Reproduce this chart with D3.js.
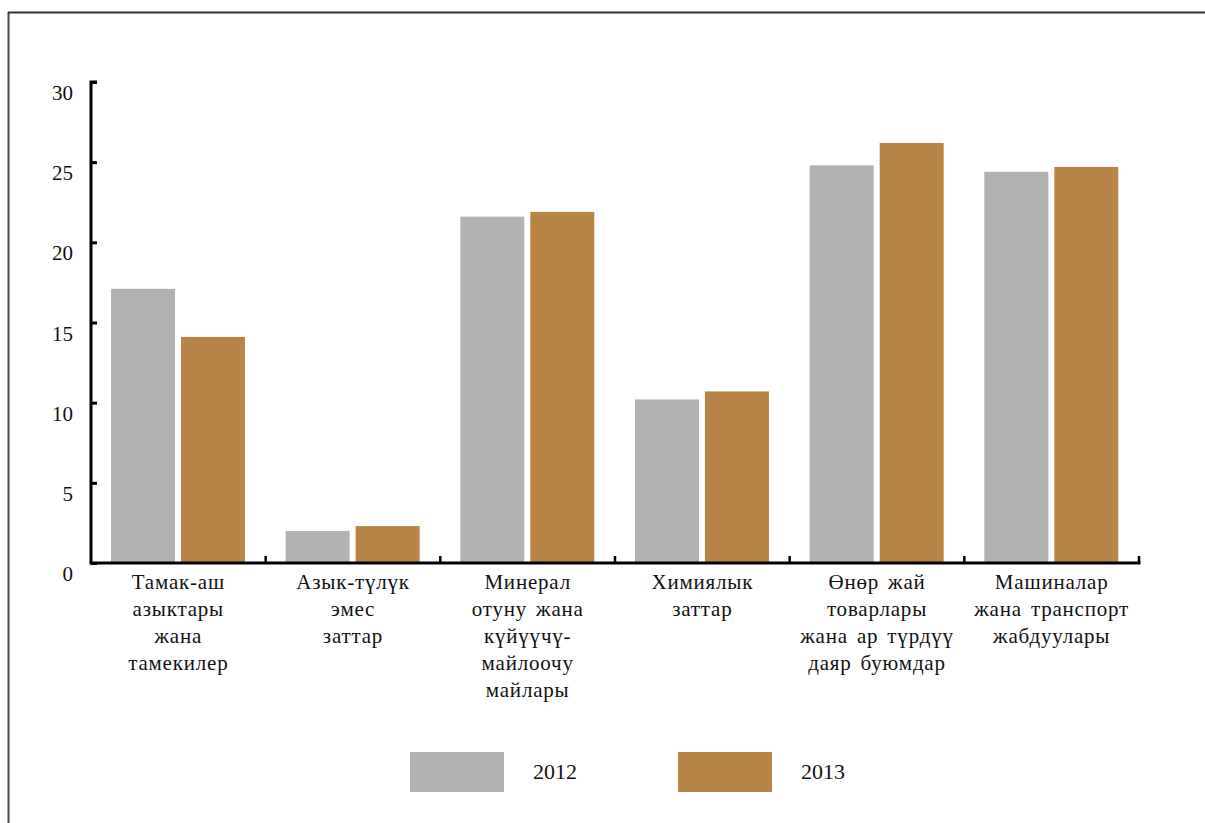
<!DOCTYPE html>
<html>
<head>
<meta charset="utf-8">
<script src="https://cdn.jsdelivr.net/npm/d3@7/dist/d3.min.js"></script>
<style>
  html, body { margin: 0; padding: 0; background: #fff; }
  svg { display: block; }
</style>
</head>
<body>
<svg id="chart" width="1205" height="823" font-family="'Liberation Serif', 'Times New Roman', Times, 'DejaVu Serif', serif"></svg>
<script>
const categories = [
  ["Тамак-аш", "азыктары", "жана", "тамекилер"],
  ["Азык-түлүк", "эмес", "заттар"],
  ["Минерал", "отуну жана", "күйүүчү-", "майлоочу", "майлары"],
  ["Химиялык", "заттар"],
  ["Өнөр жай", "товарлары", "жана ар түрдүү", "даяр буюмдар"],
  ["Машиналар", "жана транспорт", "жабдуулары"]
];
const seriesNames = ["2012", "2013"];
const values2012 = [17.1, 2.0, 21.6, 10.2, 24.8, 24.4];
const values2013 = [14.1, 2.3, 21.9, 10.7, 26.2, 24.7];
const yTicks = [0, 5, 10, 15, 20, 25, 30];
const colors = ["#b2b2b2", "#b98546"];

const svg = d3.select("#chart");

// frame
svg.append("line").attr("x1", 8.5).attr("x2", 8.5).attr("y1", 12).attr("y2", 823)
  .attr("stroke", "#444").attr("stroke-width", 2);
svg.append("line").attr("x1", 8).attr("x2", 1205).attr("y1", 12.5).attr("y2", 12.5)
  .attr("stroke", "#333").attr("stroke-width", 2);

const keys = categories.map((c, i) => "c" + i);
const x = d3.scaleBand().domain(keys).range([91, 1139]).paddingInner(0).paddingOuter(0);
const xs = d3.scaleBand().domain(seriesNames).range([20, x.bandwidth() - 20.7]).paddingInner(0.0857);
const y = d3.scaleLinear().domain([0, 30]).range([563, 82]);

const data = keys.map((k, i) => ({ key: k, vals: [values2012[i], values2013[i]] }));

const g = svg.append("g");
data.forEach(d => {
  d.vals.forEach((v, j) => {
    g.append("rect")
      .attr("x", x(d.key) + xs(seriesNames[j]))
      .attr("width", xs.bandwidth())
      .attr("y", y(v))
      .attr("height", y(0) - y(v))
      .attr("fill", colors[j]);
  });
});

// y axis
const yAxis = d3.axisRight(y).tickValues(yTicks).tickSize(6).tickFormat("");
const ya = svg.append("g").attr("transform", "translate(91,0)").call(yAxis);
ya.select(".domain").attr("stroke", "#000").attr("stroke-width", 3).attr("d", "M6,82H0V563");
ya.selectAll(".tick line").attr("stroke", "#000").attr("stroke-width", 3);
yTicks.forEach(t => {
  svg.append("text").attr("x", 73).attr("y", y(t) + 18)
    .attr("text-anchor", "end").attr("font-size", 21).attr("fill", "#111").text(t);
});

// x axis
const boundaries = keys.map(k => x(k)).concat([x.range()[1]]);
svg.append("line").attr("x1", 89.5).attr("x2", 1140.5).attr("y1", 563).attr("y2", 563)
  .attr("stroke", "#000").attr("stroke-width", 3);
boundaries.slice(1).forEach(bx => {
  svg.append("line").attr("x1", bx).attr("x2", bx).attr("y1", 563).attr("y2", 556)
    .attr("stroke", "#000").attr("stroke-width", 2.5);
});

// category labels
categories.forEach((lines, i) => {
  const cx = x(keys[i]) + x.bandwidth() / 2;
  const t = svg.append("text").attr("text-anchor", "middle").attr("font-size", 21)
    .attr("fill", "#111").attr("letter-spacing", "0.8px").attr("word-spacing", "3px");
  lines.forEach((ln, k) => {
    t.append("tspan").attr("x", cx).attr("y", 589 + k * 27).text(ln);
  });
});

// legend
const legendX = [410, 678];
seriesNames.forEach((s, j) => {
  svg.append("rect").attr("x", legendX[j]).attr("y", 752).attr("width", 94).attr("height", 40)
    .attr("fill", colors[j]);
  svg.append("text").attr("x", legendX[j] + 123).attr("y", 779).attr("font-size", 22)
    .attr("fill", "#111").text(s);
});
</script>
</body>
</html>
